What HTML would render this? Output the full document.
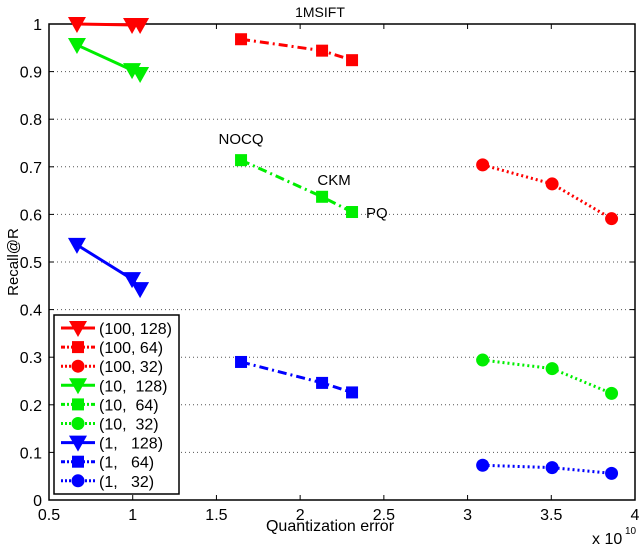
<!DOCTYPE html>
<html><head><meta charset="utf-8"><style>
html,body{margin:0;padding:0;background:#fff;}
svg text{font-family:"Liberation Sans",sans-serif;}
</style></head><body>
<svg id="chart" width="640" height="546" viewBox="0 0 640 546" xmlns="http://www.w3.org/2000/svg">
<g id="grid"></g><g id="axes"></g><g id="series"></g><g id="legend"></g>
</svg>
<script>
const xTicks=[0.5,1,1.5,2,2.5,3,3.5,4];
const xTickLabels=["0.5","1","1.5","2","2.5","3","3.5","4"];
const yTicks=[0,0.1,0.2,0.3,0.4,0.5,0.6,0.7,0.8,0.9,1];
const yTickLabels=["0","0.1","0.2","0.3","0.4","0.5","0.6","0.7","0.8","0.9","1"];
const seriesNames=["(100, 128)","(100, 64)","(100, 32)","(10,  128)","(10,  64)","(10,  32)","(1,   128)","(1,   64)","(1,   32)"];
const xs128=[0.667,0.996,1.044];
const xs64=[1.647,2.131,2.31];
const xs32=[3.09,3.505,3.86];
const r100_128=[1.0,0.998,0.998];
const r100_64=[0.968,0.944,0.924];
const r100_32=[0.704,0.664,0.591];
const r10_128=[0.956,0.903,0.895];
const r10_64=[0.714,0.637,0.605];
const r10_32=[0.294,0.276,0.224];
const r1_128=[0.536,0.464,0.443];
const r1_64=[0.29,0.246,0.226];
const r1_32=[0.073,0.068,0.056];
const methodLabels=["NOCQ","CKM","PQ"];

const X0=49,X1=635,Y0=500,Y1=24;
const sx=v=>X0+(v-0.5)/(4-0.5)*(X1-X0);
const sy=v=>Y0-v*(Y0-Y1);
const NS="http://www.w3.org/2000/svg";
function mk(tag,attrs,parent){const e=document.createElementNS(NS,tag);for(const k in attrs)e.setAttribute(k,attrs[k]);parent.appendChild(e);return e;}
const svg=document.getElementById('chart');
const grid=document.getElementById('grid'),axes=document.getElementById('axes'),ser=document.getElementById('series'),leg=document.getElementById('legend');

yTicks.forEach((v,i)=>{
 if(v>0&&v<1){const g=mk('line',{x1:X0,x2:X1,y1:sy(v),y2:sy(v),stroke:'#555','stroke-width':1,'stroke-dasharray':'1,3'},grid);
 
 }
 const t=mk('text',{x:X0-7,y:sy(v)+6,'text-anchor':'end','font-size':16},axes);t.textContent=yTickLabels[i];
 
 
 mk('line',{x1:X0,x2:X0+5,y1:sy(v),y2:sy(v),stroke:'#000'},axes);
 mk('line',{x1:X1,x2:X1-5,y1:sy(v),y2:sy(v),stroke:'#000'},axes);
});
xTicks.forEach((v,i)=>{
 const t=mk('text',{x:sx(v),y:Y0+20,'text-anchor':'middle','font-size':16},axes);t.textContent=xTickLabels[i];
 
 
 mk('line',{x1:sx(v),x2:sx(v),y1:Y0,y2:Y0-5,stroke:'#000'},axes);
 mk('line',{x1:sx(v),x2:sx(v),y1:Y1,y2:Y1+5,stroke:'#000'},axes);
});
const box=mk('rect',{x:X0,y:Y1,width:X1-X0,height:Y0-Y1,fill:'none',stroke:'#000','stroke-width':1.5},axes);


let t=mk('text',{x:320,y:17,'text-anchor':'middle','font-size':14},axes);t.textContent='1MSIFT';


t=mk('text',{x:330,y:531,'text-anchor':'middle','font-size':16},axes);t.textContent='Quantization error';


t=mk('text',{x:18,y:262,'text-anchor':'middle','font-size':15,transform:'rotate(-90 18 262)'},axes);t.textContent='Recall@R';


t=mk('text',{x:592,y:544,'font-size':16},axes);t.textContent='x 10';


t=mk('text',{x:625,y:534,'font-size':10},axes);t.textContent='10';



const colors={r:'#ff0000',g:'#00ee00',b:'#0000ff'};
const dash={tri:null,sq:'9,4,2,4',ci:'2,3'};
const series=[
 [xs128,r100_128,'r','tri'],[xs64,r100_64,'r','sq'],[xs32,r100_32,'r','ci'],
 [xs128,r10_128,'g','tri'],[xs64,r10_64,'g','sq'],[xs32,r10_32,'g','ci'],
 [xs128,r1_128,'b','tri'],[xs64,r1_64,'b','sq'],[xs32,r1_32,'b','ci']];
function marker(type,x,y,c,parent){
 let m;
 if(type==='tri')m=mk('polygon',{points:`${x-9},${y-7} ${x+9},${y-7} ${x},${y+9}`,fill:c},parent);
 else if(type==='sq')m=mk('rect',{x:x-6,y:y-6,width:12,height:12,fill:c},parent);
 else m=mk('circle',{cx:x,cy:y,r:6.5,fill:c},parent);
 return m;
}
series.forEach((s,i)=>{
 const [xa,ya,c,type]=s;const col=colors[c];
 const pts=xa.map((x,j)=>sx(x)+','+sy(ya[j])).join(' ');
 const a={points:pts,fill:'none',stroke:col,'stroke-width':3};
 if(dash[type])a['stroke-dasharray']=dash[type];
 const pl=mk('polyline',a,ser);
 
 
 xa.forEach((x,j)=>{const m=marker(type,sx(x),sy(ya[j]),col,ser);
  
  });
});
const lblPos=[[0,-16,0,'middle'],[1,-12,12,'middle'],[2,6,14,'start']];
lblPos.forEach(([j,dy,dx,anc])=>{
 const tt=mk('text',{x:sx(xs64[j])+dx,y:sy(r10_64[j])+dy,'text-anchor':anc,'font-size':15},ser);
 tt.textContent=methodLabels[j];
 
 
});
const lb=mk('rect',{x:54,y:315,width:125,height:179,fill:'#fff',stroke:'#000','stroke-width':1.5},leg);


series.forEach((s,i)=>{
 const [,,c,type]=s;const col=colors[c];const y=328+i*19.1;
 const a={x1:61,x2:95,y1:y,y2:y,stroke:col,'stroke-width':3};
 if(dash[type])a['stroke-dasharray']=type==='sq'?'4,2,2,2':'2,2';
 mk('line',a,leg);
 marker(type,78,y,col,leg);
 const tx=mk('text',{x:99,y:y+6,'font-size':16},leg);
 tx.setAttribute('style','white-space:pre');
 tx.textContent=seriesNames[i];
 
 
});
</script>
</body></html>
